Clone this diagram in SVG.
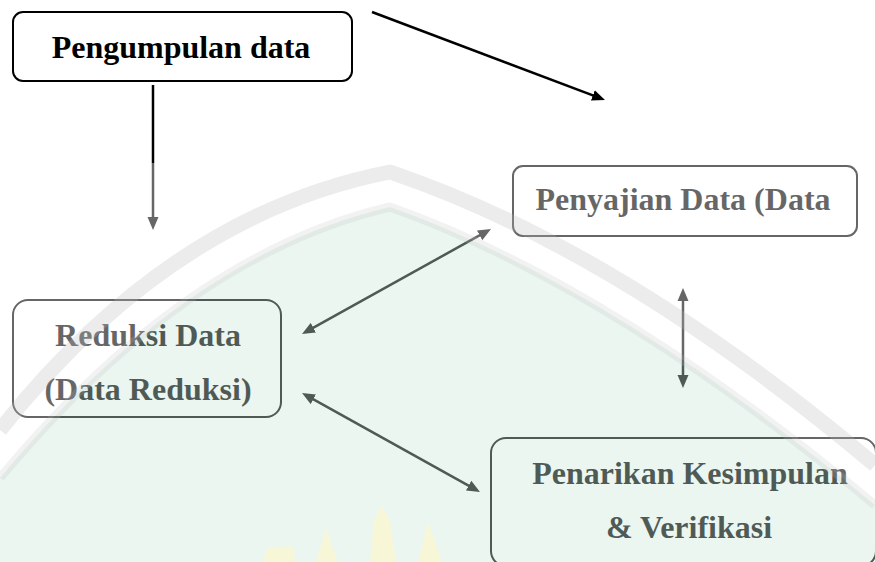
<svg xmlns="http://www.w3.org/2000/svg" width="875" height="562" viewBox="0 0 875 562">
  <style>
    .box { fill: #ffffff; stroke: #000000; stroke-width: 2; }
    .lbl { font-family: "Liberation Serif", "Times New Roman", serif; font-weight: bold; font-size: 32px; fill: #000000; text-anchor: middle; }
    .conn { stroke: #000000; stroke-width: 2.5; fill: none; }
  </style>
  <defs>
    <marker id="arr" markerUnits="userSpaceOnUse" markerWidth="14" markerHeight="12" viewBox="0 0 14 12" refX="5" refY="6" orient="auto-start-reverse">
      <path d="M0,0.5 L13,6 L0,11.5 Z" fill="#000000"/>
    </marker>
  </defs>
  <rect x="0" y="0" width="875" height="562" fill="#ffffff"/>

  <g id="node-pengumpulan">
    <rect class="box" x="13" y="12" width="339" height="69" rx="10"/>
    <text class="lbl" x="181" y="58">Pengumpulan data</text>
  </g>
  <g id="node-penyajian">
    <rect class="box" x="513" y="166" width="344" height="70" rx="10"/>
    <text class="lbl" x="683" y="210">Penyajian Data (Data</text>
  </g>
  <g id="node-reduksi">
    <rect class="box" x="13" y="300" width="268" height="117" rx="15"/>
    <text class="lbl" x="148" y="345.5">Reduksi Data</text>
    <text class="lbl" x="148" y="400">(Data Reduksi)</text>
  </g>
  <g id="node-penarikan">
    <rect class="box" x="491" y="438" width="385" height="128" rx="15"/>
    <text class="lbl" x="690" y="484">Penarikan Kesimpulan</text>
    <text class="lbl" x="689" y="538">&amp; Verifikasi</text>
  </g>

  <g id="connectors">
    <line class="conn" x1="153" y1="85" x2="153" y2="222" marker-end="url(#arr)"/>
    <line class="conn" x1="372" y1="12" x2="597.5" y2="97.2" marker-end="url(#arr)"/>
    <line class="conn" x1="309" y1="330.1" x2="484" y2="232.9" marker-start="url(#arr)" marker-end="url(#arr)"/>
    <line class="conn" x1="683" y1="296" x2="683" y2="380" marker-start="url(#arr)" marker-end="url(#arr)"/>
    <line class="conn" x1="309" y1="396.9" x2="473" y2="488.1" marker-start="url(#arr)" marker-end="url(#arr)"/>
  </g>

  <g id="watermark" pointer-events="none">
    <path fill="#ffffff" fill-opacity="0.4" fill-rule="evenodd" d="M0,163 H875 V562 H0 Z M0,478 Q185,255 390,207 Q610,285 875,505 V562 H0 Z"/>
    <path fill="#cbe9da" fill-opacity="0.39" d="M0,478 Q185,255 390,207 Q610,285 875,505 V562 H0 Z"/>
    <path fill="none" stroke="#b8b8b8" stroke-opacity="0.27" stroke-width="15" stroke-linejoin="round" d="M0,430 Q170,215 390,172 Q620,250 875,465"/>
    <path fill="none" stroke="#bdbdbd" stroke-opacity="0.2" stroke-width="9" stroke-linejoin="round" d="M0,478 Q185,255 390,207 Q610,285 875,505"/>
    <g fill="#fff8c8" fill-opacity="0.6">
      <path d="M262,562 L268,548 L292,546 L296,562 Z"/>
      <path d="M316,562 L326,528 L338,562 Z"/>
      <path d="M370,562 L374,520 L382,506 L390,520 L396,562 Z"/>
      <path d="M418,562 L428,522 L442,562 Z"/>
    </g>
  </g>
</svg>
